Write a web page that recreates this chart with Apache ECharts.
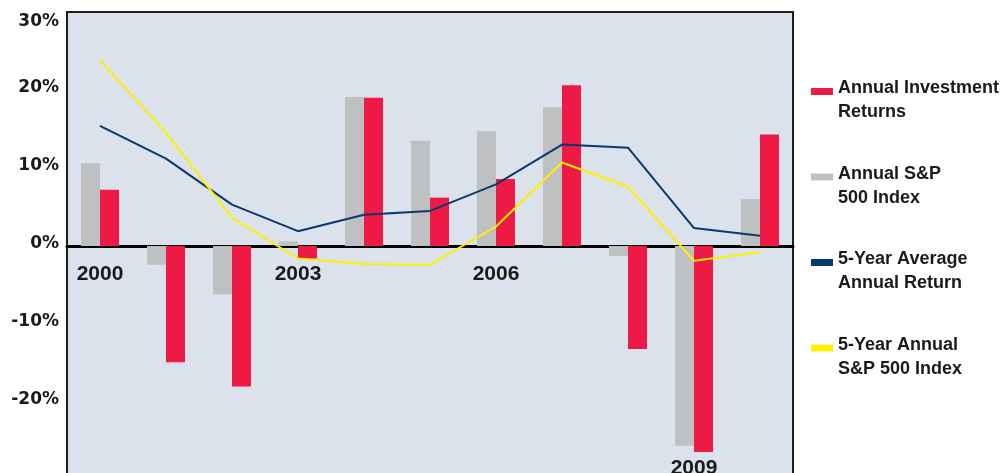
<!DOCTYPE html>
<html>
<head>
<meta charset="utf-8">
<script src="https://cdn.jsdelivr.net/npm/echarts@6/dist/echarts.min.js"></script>
<style>html,body{margin:0;padding:0;background:#fff}#c{width:1004px;height:473px}</style>
</head>
<body>
<div id="c"></div>
<script>
var years = ['2000','2001','2002','2003','2004','2005','2006','2007','2008','2009','2010'];
var annualReturns = [7.2, -14.9, -18.0, -1.6, 19.0, 6.2, 8.6, 20.6, -13.2, -26.4, 14.3];
var annualSP500 = [10.6, -2.4, -6.2, 0.6, 19.1, 13.5, 14.7, 17.8, -1.3, -25.6, 6.0];
var fiveYearAvg = [15.4, 11.2, 5.3, 1.9, 4.0, 4.5, 7.9, 13.0, 12.6, 2.3, 1.3];
var fiveYearSP500 = [23.8, 14.5, 3.6, -1.6, -2.3, -2.4, 2.5, 10.7, 7.6, -1.9, -0.8];
var labeledYears = ['2000','2003','2006','2009'];
var names = ['Annual Investment\nReturns', 'Annual S&P\n500 Index', '5-Year Average\nAnnual Return', '5-Year Annual\nS&P 500 Index'];

var chart = echarts.init(document.getElementById('c'), null, {renderer: 'canvas'});
var txt = '#1a1a1a';
var legendFont = {fontFamily: 'Liberation Sans', fontWeight: 'bold', fontSize: 18, color: txt, lineHeight: 24};
chart.setOption({
  animation: false,
  backgroundColor: '#ffffff',
  grid: {
    left: 67, width: 726, top: 12, height: 468,
    outerBoundsMode: 'none', containLabel: false,
    show: true, backgroundColor: '#dce2ec', borderColor: '#1f1f1f', borderWidth: 2
  },
  legend: {
    orient: 'vertical', left: 811, top: 67, padding: 0,
    itemWidth: 22, itemHeight: 7, itemGap: 31,
    data: [names[0], names[1], names[2], names[3]],
    icon: 'rect',
    formatter: function (name) {
      return '{s|}\n' + name.split('\n').map(function (p) { return '{a|' + p + '}'; }).join('\n');
    },
    textStyle: {
      fontFamily: 'Liberation Sans', fontWeight: 'bold', fontSize: 18, color: txt,
      rich: {
        s: {lineHeight: 18, fontSize: 1},
        a: legendFont
      }
    }
  },
  xAxis: {
    type: 'category', data: years,
    position: 'bottom', offset: -234,
    axisLine: {onZero: false, lineStyle: {color: '#000', width: 3}},
    axisTick: {show: false},
    splitLine: {show: false},
    axisLabel: {
      margin: 18,
      interval: function (i, v) { return labeledYears.indexOf(v) >= 0; },
      formatter: function (v) { return v === '2009' ? '{d|' + v + '}' : '{u|' + v + '}'; },
      rich: {
        u: {fontFamily: 'Liberation Sans', fontWeight: 'bold', fontSize: 21, color: txt},
        d: {fontFamily: 'Liberation Sans', fontWeight: 'bold', fontSize: 21, color: txt, padding: [194, 0, 0, 0]}
      }
    }
  },
  yAxis: {
    type: 'value', min: -30, max: 30, interval: 10,
    axisLine: {show: false}, axisTick: {show: false}, splitLine: {show: false},
    axisLabel: {
      margin: 8,
      formatter: function (v) { return v === 30 ? '{t|' + v + '%}' : (v === -30 ? '' : '{n|' + v + '%}'); },
      rich: {
        t: {fontFamily: 'DejaVu Sans', fontWeight: 'bold', fontSize: 17, color: txt, padding: [19, 0, 0, 0]},
        n: {fontFamily: 'DejaVu Sans', fontWeight: 'bold', fontSize: 17, color: txt, padding: [0, 0, 4, 0]}
      }
    }
  },
  series: [
    {name: names[1], type: 'bar', data: annualSP500, barWidth: 19, barGap: '0%', itemStyle: {color: '#bfc0c2'}},
    {name: names[0], type: 'bar', data: annualReturns, barWidth: 19, barGap: '0%', itemStyle: {color: '#ee1944'}},
    {name: names[2], type: 'line', data: fiveYearAvg, symbol: 'none', z: 3, lineStyle: {color: '#0b386c', width: 2}, itemStyle: {color: '#0b386c'}},
    {name: names[3], type: 'line', data: fiveYearSP500, symbol: 'none', z: 4, lineStyle: {color: '#fff000', width: 2}, itemStyle: {color: '#fff000'}}
  ]
});
</script>
</body>
</html>
